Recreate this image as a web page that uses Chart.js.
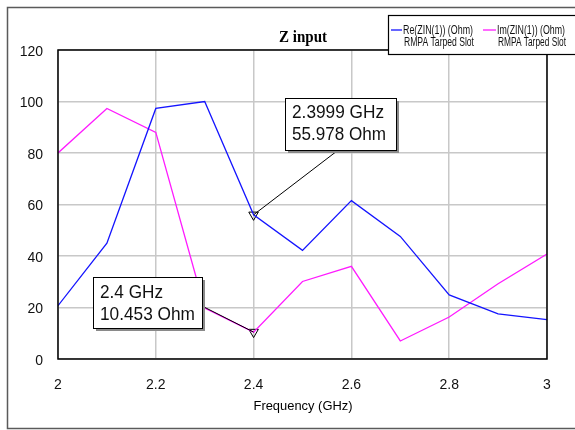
<!DOCTYPE html>
<html>
<head>
<meta charset="utf-8">
<script src="https://cdn.jsdelivr.net/npm/chart.js@4/dist/chart.umd.min.js"></script>
<style>
  html, body { margin: 0; padding: 0; background: #fff; }
  #wrap { width: 575px; height: 430px; position: relative; }
</style>
</head>
<body>
<div id="wrap"><canvas id="c" width="575" height="430"></canvas></div>
<script>
// Input impedance of the tapered-slot RMPA, sampled every 100 MHz
const freqGHz = [2.0, 2.1, 2.2, 2.3, 2.4, 2.5, 2.6, 2.7, 2.8, 2.9, 3.0];
const reZin   = [20.7, 45.0, 97.3, 100.0, 55.978, 42.2, 61.5, 47.6, 24.9, 17.5, 15.3];
const imZin   = [80.0, 97.3, 88.0, 19.8, 10.453, 30.1, 36.0, 7.0, 16.3, 29.2, 40.8];

// Marker readouts (frequency, value)
const markerFreq  = [2.3999, 2.4];
const markerValue = [55.978, 10.453];

const xTicks = [2, 2.2, 2.4, 2.6, 2.8, 3];
const yTicks = [0, 20, 40, 60, 80, 100, 120];

const seriesNames = [
  ['Re(ZIN(1)) (Ohm)', 'RMPA Tarped Slot'],
  ['Im(ZIN(1)) (Ohm)', 'RMPA Tarped Slot']
];

const SANS = "'Liberation Sans', Arial, sans-serif";
const SERIF = "'Liberation Serif', 'Times New Roman', serif";

// Draw text squeezed/stretched horizontally to a given width
function fitText(ctx, text, x, y, width, align) {
  const w = ctx.measureText(text).width;
  const s = width / w;
  ctx.save();
  ctx.translate(x, y);
  ctx.scale(s, 1);
  ctx.textAlign = 'left';
  ctx.fillText(text, align === 'center' ? -w / 2 : 0, 0);
  ctx.restore();
}

// Callout boxes for the two markers: box geometry, text rows, leader-line anchor, text widths
const callouts = [
  { box: [285, 98, 111, 52], rows: [113, 135], anchor: [337, 151], width: [92, 94] },
  { box: [93, 277, 109, 51], rows: [293, 315], anchor: [202, 306], width: [63, 95] }
];

const decorations = {
  id: 'decorations',
  beforeDraw(chart) {
    const ctx = chart.ctx;
    ctx.save();
    ctx.fillStyle = '#fff';
    ctx.fillRect(0, 0, chart.width, chart.height);
    // outer frame
    ctx.strokeStyle = '#5a5a5a';
    ctx.lineWidth = 1.5;
    ctx.strokeRect(7.5, 7.5, 600, 421);
    ctx.restore();
  },
  afterDatasetsDraw(chart) {
    const ctx = chart.ctx;
    const a = chart.chartArea;
    const xs = chart.scales.x, ys = chart.scales.y;
    ctx.save();
    // plot border
    ctx.strokeStyle = '#000';
    ctx.lineWidth = 1.5;
    ctx.strokeRect(a.left, a.top, a.right - a.left, a.bottom - a.top);

    // title
    ctx.fillStyle = '#000';
    ctx.textBaseline = 'alphabetic';
    ctx.font = 'bold 17px ' + SERIF;
    fitText(ctx, 'Z input', 303, 42, 48, 'center');

    // axis title
    ctx.font = '13px ' + SANS;
    ctx.textBaseline = 'middle';
    fitText(ctx, 'Frequency (GHz)', 303, 406, 99, 'center');

    // marker callouts
    callouts.forEach((c, i) => {
      const px = xs.getPixelForValue(markerFreq[i]);
      const py = ys.getPixelForValue(markerValue[i]);
      ctx.strokeStyle = '#000';
      ctx.lineWidth = 1;
      ctx.beginPath();
      ctx.moveTo(c.anchor[0], c.anchor[1]);
      ctx.lineTo(px, py);
      ctx.stroke();
      const [bx, by, bw, bh] = c.box;
      ctx.fillStyle = '#8a8a8a';
      ctx.fillRect(bx + 3, by + 3, bw, bh);
      ctx.fillStyle = '#fff';
      ctx.fillRect(bx, by, bw, bh);
      ctx.strokeStyle = '#000';
      ctx.strokeRect(bx + 0.5, by + 0.5, bw, bh);
      ctx.fillStyle = '#111';
      ctx.font = '18px ' + SANS;
      ctx.textBaseline = 'middle';
      const l1 = markerFreq[i] + ' GHz';
      const l2 = markerValue[i].toFixed(3) + ' Ohm';
      fitText(ctx, l1, bx + 7, c.rows[0], c.width[0], 'left');
      fitText(ctx, l2, bx + 7, c.rows[1], c.width[1], 'left');
    });

    // legend
    ctx.fillStyle = '#fff';
    ctx.fillRect(388, 15, 200, 39);
    ctx.strokeStyle = '#000';
    ctx.lineWidth = 1.2;
    ctx.strokeRect(388.5, 15.5, 200, 39);
    const legendX = [[391, 402], [483, 496]];
    const textW = [70, 68];
    chart.data.datasets.slice(0, 2).forEach((ds, i) => {
      ctx.strokeStyle = ds.borderColor;
      ctx.lineWidth = 1.3;
      ctx.beginPath();
      ctx.moveTo(legendX[i][0], 30);
      ctx.lineTo(legendX[i][1], 30);
      ctx.stroke();
      ctx.fillStyle = '#111';
      ctx.font = '12px ' + SANS;
      ctx.textBaseline = 'middle';
      fitText(ctx, seriesNames[i][0], legendX[i][1] + 1, 31, textW[i], 'left');
      fitText(ctx, seriesNames[i][1], legendX[i][1] + 2, 43, textW[i], 'left');
    });
    ctx.restore();
  }
};

new Chart(document.getElementById('c'), {
  type: 'line',
  data: {
    datasets: [
      {
        label: seriesNames[0].join(' '),
        data: freqGHz.map((f, i) => ({ x: f, y: reZin[i] })),
        borderColor: '#1414ff',
        borderWidth: 1.3,
        pointRadius: 0,
        tension: 0
      },
      {
        label: seriesNames[1].join(' '),
        data: freqGHz.map((f, i) => ({ x: f, y: imZin[i] })),
        borderColor: '#ff1aff',
        borderWidth: 1.3,
        pointRadius: 0,
        tension: 0
      },
      {
        label: 'markers',
        data: markerFreq.map((f, i) => ({ x: f, y: markerValue[i] })),
        showLine: false,
        pointStyle: 'triangle',
        rotation: 180,
        pointRadius: 5.5,
        borderColor: '#000',
        borderWidth: 1,
        backgroundColor: 'rgba(255,255,255,0)'
      }
    ]
  },
  options: {
    responsive: false,
    animation: false,
    devicePixelRatio: 1,
    layout: { padding: { left: 0, right: 28, top: 50, bottom: 0 } },
    plugins: { legend: { display: false }, tooltip: { enabled: false }, title: { display: false } },
    scales: {
      x: {
        type: 'linear',
        min: 2, max: 3,
        afterBuildTicks(s) { s.ticks = xTicks.map(v => ({ value: v })); },
        afterFit(s) { s.height = 71; },
        grid: { color: '#c8c8c8', lineWidth: 1.5, drawTicks: false },
        border: { display: false },
        ticks: {
          padding: 18,
          color: '#111',
          font: { family: SANS, size: 14 },
          callback: v => String(v)
        }
      },
      y: {
        min: 0, max: 120,
        afterBuildTicks(s) { s.ticks = yTicks.map(v => ({ value: v })); },
        afterFit(s) { s.width = 58; },
        grid: { color: '#c8c8c8', lineWidth: 1.5, drawTicks: false },
        border: { display: false },
        ticks: {
          padding: 15,
          labelOffset: 2,
          color: '#111',
          font: { family: SANS, size: 14 },
          callback: v => String(v)
        }
      }
    }
  },
  plugins: [decorations]
});
</script>
</body>
</html>
